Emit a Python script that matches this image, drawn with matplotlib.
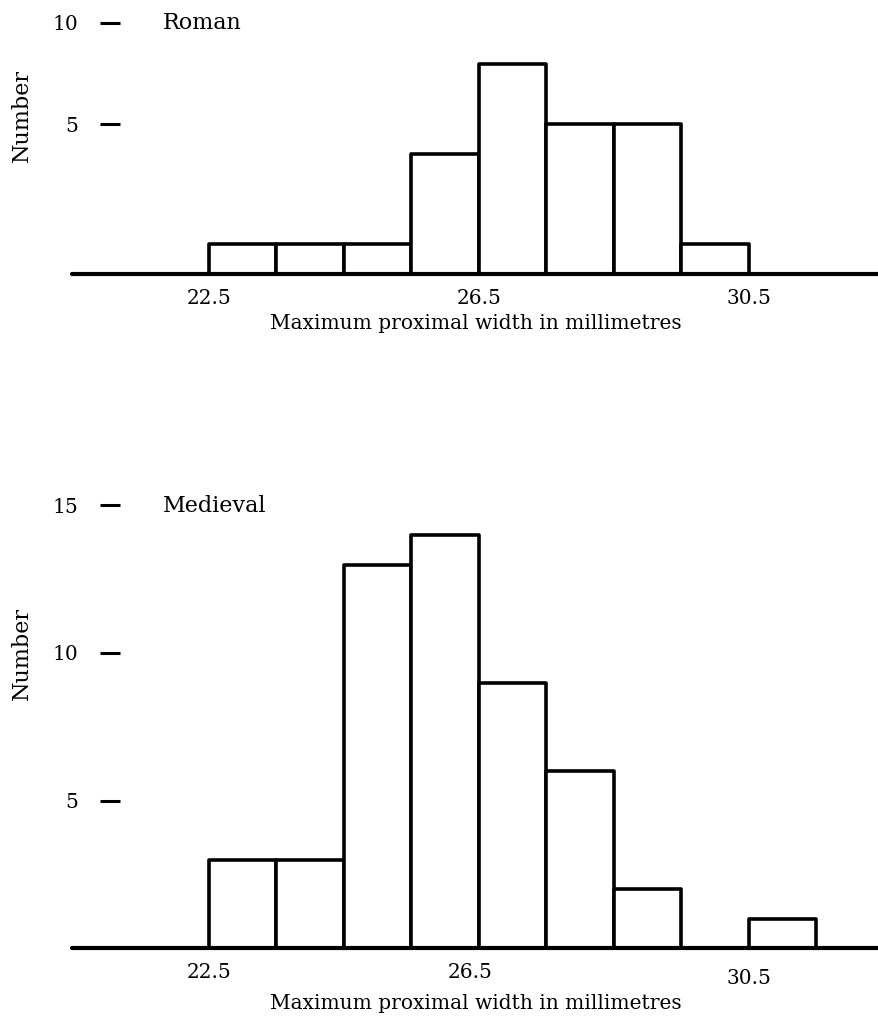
import matplotlib
matplotlib.use("Agg")
import matplotlib.pyplot as plt
import matplotlib.transforms as mtransforms
import numpy as np

# ---- data ----
bin_width = 1.0
roman_left_edges = [22.5, 23.5, 24.5, 25.5, 26.5, 27.5, 28.5, 29.5]
roman_counts = [1, 1, 1, 4, 7, 5, 5, 1]
medieval_left_edges = [22.5, 23.5, 24.5, 25.5, 26.5, 27.5, 28.5, 29.5, 30.5]
medieval_counts = [3, 3, 13, 14, 9, 6, 2, 0, 1]
x_ticks = [22.5, 26.5, 30.5]
x_tick_labels = ["22.5", "26.5", "30.5"]
roman_ytick_labels = ["5", "10"]
roman_ytick_pos = [5, 8.37]      # the printed "10" sits at the top of the panel
medieval_ytick_labels = ["5", "10", "15"]
medieval_ytick_pos = [5, 10, 15]
xlabel = "Maximum proximal width in millimetres"
ylabel = "Number"

W, H = 879, 1017
DPI = 100
plt.rcParams["font.family"] = ["DejaVu Serif"]
fig = plt.figure(figsize=(W / DPI, H / DPI), dpi=DPI)

FS = 14.5


def px_axes(left, right, top_px, bottom_px):
    return fig.add_axes([left / W, 1 - bottom_px / H, (right - left) / W,
                         (bottom_px - top_px) / H])


def style(ax, edges, counts, ytpos, ytlab, name, xlim, ylim):
    ax.bar(edges, counts, width=bin_width, align="edge", facecolor="white",
           edgecolor="black", linewidth=2.6, zorder=2, joinstyle="round")
    ax.set_xlim(*xlim)
    ax.set_ylim(*ylim)
    for s in ("top", "right"):
        ax.spines[s].set_visible(False)
    ax.spines["bottom"].set_linewidth(3.0)
    ax.spines["bottom"].set_capstyle("round")
    ax.spines["bottom"].set_zorder(3)
    ax.spines["left"].set_position(("data", 21.03))
    ax.spines["left"].set_visible(False)
    ax.set_xticks(x_ticks)
    ax.set_xticklabels(x_tick_labels, fontsize=FS)
    ax.tick_params(axis="x", length=0, pad=11)
    ax.set_yticks(ytpos)
    ax.set_yticklabels(ytlab, fontsize=FS)
    ax.tick_params(axis="y", direction="inout", length=14, width=2.2, pad=16)
    ax.set_xlabel(xlabel, fontsize=FS, labelpad=4)
    ax.text(21.82, ytpos[-1], name, fontsize=16, va="center", ha="left")
    ax.patch.set_alpha(0)


x_lim = (20.47, 32.43)

ax1 = px_axes(72, 879, 12, 274)
style(ax1, roman_left_edges, roman_counts, roman_ytick_pos, roman_ytick_labels,
      "Roman", x_lim, (0, (274 - 12) / 30.0))

ax2 = px_axes(72, 879, 480, 948)
style(ax2, medieval_left_edges, medieval_counts, medieval_ytick_pos,
      medieval_ytick_labels, "Medieval", x_lim, (0, (948 - 480) / 29.5))

# small printing offsets of the lower panel's x tick labels
offsets_px = {1: (-9, 0), 2: (0, -6)}
for i, lab in enumerate(ax2.get_xticklabels()):
    if i in offsets_px:
        dx, dy = offsets_px[i]
        lab.set_transform(lab.get_transform() +
                          mtransforms.ScaledTranslation(dx / DPI, dy / DPI,
                                                        fig.dpi_scale_trans))

fig.text(22 / W, 1 - 116 / H, ylabel, rotation=90, fontsize=16,
         ha="center", va="center")
fig.text(22 / W, 1 - 653 / H, ylabel, rotation=90, fontsize=16,
         ha="center", va="center")

fig.savefig("out.png", dpi=DPI, facecolor="white")
